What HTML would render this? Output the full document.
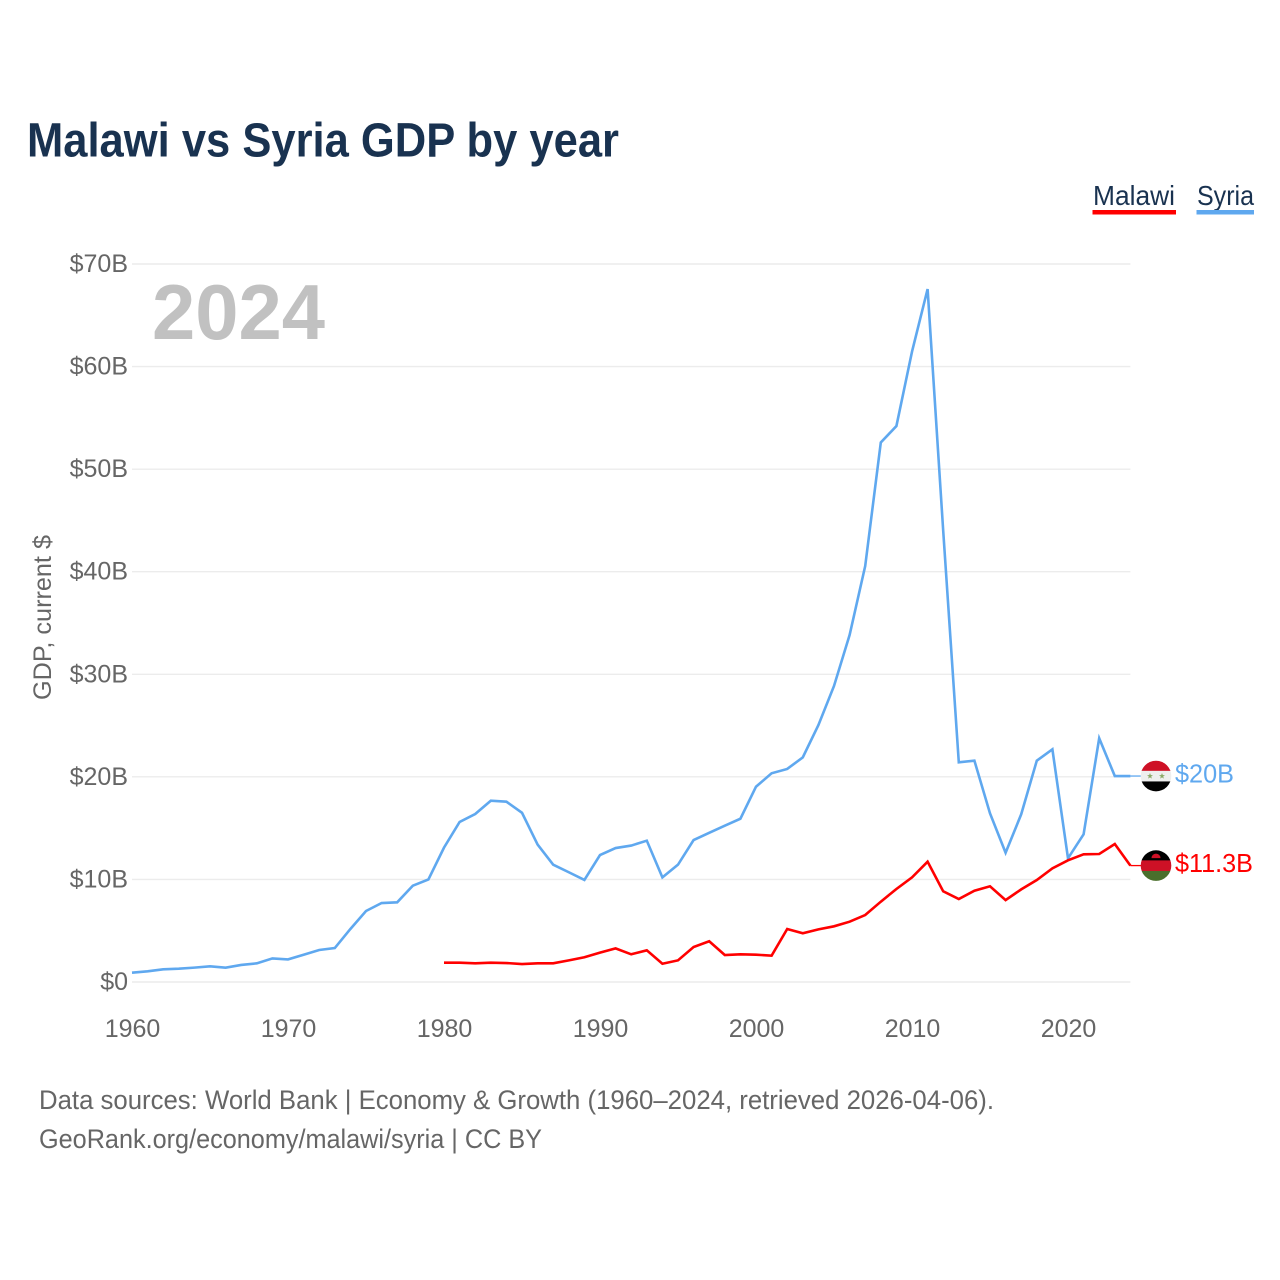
<!DOCTYPE html>
<html lang="en">
<head>
<meta charset="utf-8">
<title>Malawi vs Syria GDP by year</title>
<style>
  html, body { margin: 0; padding: 0; background: #fff; }
  svg { display: block; font-family: "Liberation Sans", sans-serif; }
</style>
</head>
<body>
<svg id="chart" xmlns="http://www.w3.org/2000/svg" width="1280" height="1280" viewBox="0 0 1280 1280">
  <rect width="1280" height="1280" fill="#fff"/>
  <text x="27" y="156.5" font-size="48" font-weight="700" fill="#193250" textLength="592" lengthAdjust="spacingAndGlyphs">Malawi vs Syria GDP by year</text>

  <g>
    <g>
      <text x="1093" y="205" font-size="28" fill="#193250" textLength="82" lengthAdjust="spacingAndGlyphs">Malawi</text>
      <rect x="1092.5" y="210" width="83.5" height="4.5" fill="#ff0000"/>
    </g>
    <g>
      <text x="1197" y="205" font-size="28" fill="#193250" textLength="57" lengthAdjust="spacingAndGlyphs">Syria</text>
      <rect x="1196.5" y="210" width="57.5" height="4.5" fill="#5fa8ef"/>
    </g>
  </g>

  <g id="grid"></g>
  <g id="y-axis"></g>
  <g id="x-axis"></g>

  <text transform="translate(51 700) rotate(-90)" font-size="25" fill="#666" textLength="165" lengthAdjust="spacingAndGlyphs">GDP, current $</text>
  <text x="152" y="339" font-size="78" font-weight="700" fill="#c1c1c1" textLength="173" lengthAdjust="spacingAndGlyphs">2024</text>

  <g id="series"></g>

  <defs>
    <clipPath id="flag-clip"><circle cx="0" cy="0" r="15.3"/></clipPath>
  </defs>
  <g id="flag-syria" clip-path="url(#flag-clip)">
    <rect x="-16" y="-16" width="32" height="11" fill="#ce1126"/>
    <rect x="-16" y="-5.2" width="32" height="10.6" fill="#eeeeee"/>
    <rect x="-16" y="5.4" width="32" height="11" fill="#000"/>
    <polygon fill="#8aa865" points="-6,-3 -5.2,-0.9 -3,-0.9 -4.8,0.4 -4.1,2.6 -6,1.3 -7.9,2.6 -7.2,0.4 -9,-0.9 -6.8,-0.9"/>
    <polygon fill="#8aa865" points="6,-3 6.8,-0.9 9,-0.9 7.2,0.4 7.9,2.6 6,1.3 4.1,2.6 4.8,0.4 3,-0.9 5.2,-0.9"/>
  </g>
  <g id="flag-malawi" clip-path="url(#flag-clip)">
    <rect x="-16" y="-16" width="32" height="11" fill="#000"/>
    <rect x="-16" y="-5.2" width="32" height="10.6" fill="#ce1126"/>
    <rect x="-16" y="5.4" width="32" height="11" fill="#4a6f2c"/>
    <path d="M-4.5,-7.5 A4.5,4.5 0 0 1 4.5,-7.5 Z" fill="#ce1126"/>
  </g>
  <text id="end-label-syria" x="1175" font-size="25.5" fill="#5fa8ef"></text>
  <text id="end-label-malawi" x="1175" font-size="25.5" fill="#ff0000"></text>

  <g>
    <text x="39" y="1109" font-size="27" fill="#666" textLength="955" lengthAdjust="spacingAndGlyphs">Data sources: World Bank | Economy &amp; Growth (1960–2024, retrieved 2026-04-06).</text>
    <text x="39" y="1148" font-size="27" fill="#666" textLength="503" lengthAdjust="spacingAndGlyphs">GeoRank.org/economy/malawi/syria | CC BY</text>
  </g>
</svg>

<script>
const yTickValues = [0, 10, 20, 30, 40, 50, 60, 70];
const yTickLabels = ["$0", "$10B", "$20B", "$30B", "$40B", "$50B", "$60B", "$70B"];
const xTickYears = [1960, 1970, 1980, 1990, 2000, 2010, 2020];
const xTickLabels = ["1960", "1970", "1980", "1990", "2000", "2010", "2020"];

const syriaStartYear = 1960;
const syriaValues = [
  0.91, 1.04, 1.24, 1.30, 1.40, 1.53, 1.40, 1.66, 1.82, 2.30,
  2.20, 2.66, 3.12, 3.31, 5.17, 6.92, 7.70, 7.77, 9.39, 10.0,
  13.1, 15.6, 16.38, 17.67, 17.58, 16.5, 13.4, 11.44, 10.7, 9.95,
  12.38, 13.06, 13.3, 13.78, 10.2, 11.44, 13.84, 14.55, 15.24, 15.92,
  19.04, 20.35, 20.77, 21.9, 25.05, 28.86, 33.83, 40.56, 52.6, 54.2,
  61.45, 67.56, 44.0, 21.42, 21.58, 16.44, 12.6, 16.35, 21.58, 22.68,
  12.06, 14.4, 23.76, 20.08, 20.08
];

const malawiStartYear = 1980;
const malawiValues = [
  1.88, 1.88, 1.82, 1.88, 1.85, 1.75, 1.82, 1.82, 2.11, 2.41,
  2.86, 3.28, 2.70, 3.09, 1.78, 2.11, 3.41, 3.97, 2.63, 2.70,
  2.66, 2.57, 5.17, 4.75, 5.13, 5.43, 5.88, 6.53, 7.83, 9.07,
  10.2, 11.73, 8.84, 8.09, 8.90, 9.33, 7.99, 9.03, 9.94, 11.08,
  11.86, 12.45, 12.48, 13.45, 11.35
];

const syriaEndLabel = "$20B";
const malawiEndLabel = "$11.3B";

const SVG_NS = "http://www.w3.org/2000/svg";
const X0 = 132, PX_PER_YEAR = 15.6, Y0 = 982, PX_PER_BILLION = 10.257;
const xScale = function (year) { return X0 + (year - 1960) * PX_PER_YEAR; };
const yScale = function (value) { return Y0 - value * PX_PER_BILLION; };
const PLOT_RIGHT = xScale(2024);
const FLAG_X = 1156;

const gridLayer = document.getElementById("grid");
const yAxisLayer = document.getElementById("y-axis");
const xAxisLayer = document.getElementById("x-axis");
const seriesLayer = document.getElementById("series");

yTickValues.forEach(function (value, i) {
  const y = yScale(value);
  const line = document.createElementNS(SVG_NS, "line");
  
  
  line.setAttribute("x1", X0);
  line.setAttribute("x2", PLOT_RIGHT);
  line.setAttribute("y1", y);
  line.setAttribute("y2", y);
  line.setAttribute("stroke", "#ececec");
  line.setAttribute("stroke-width", "1.4");
  gridLayer.appendChild(line);

  const label = document.createElementNS(SVG_NS, "text");
  
  
  label.setAttribute("x", 128);
  label.setAttribute("y", y + 8);
  label.setAttribute("text-anchor", "end");
  label.setAttribute("font-size", "25");
  label.setAttribute("fill", "#666");
  label.textContent = yTickLabels[i];
  yAxisLayer.appendChild(label);
});

xTickYears.forEach(function (year, i) {
  const label = document.createElementNS(SVG_NS, "text");
  
  
  label.setAttribute("x", xScale(year) + 0.5);
  label.setAttribute("y", 1037);
  label.setAttribute("text-anchor", "middle");
  label.setAttribute("font-size", "25");
  label.setAttribute("fill", "#666");
  label.textContent = xTickLabels[i];
  xAxisLayer.appendChild(label);
});

function linePoints(startYear, values) {
  return values.map(function (v, i) {
    return xScale(startYear + i).toFixed(2) + "," + yScale(v).toFixed(2);
  }).join(" ");
}

const syriaLine = document.createElementNS(SVG_NS, "polyline");


syriaLine.setAttribute("points", linePoints(syriaStartYear, syriaValues));
syriaLine.setAttribute("fill", "none");
syriaLine.setAttribute("stroke", "#5fa8ef");
syriaLine.setAttribute("stroke-width", "2.6");
syriaLine.setAttribute("stroke-linejoin", "miter");
seriesLayer.appendChild(syriaLine);

const malawiLine = document.createElementNS(SVG_NS, "polyline");


malawiLine.setAttribute("points", linePoints(malawiStartYear, malawiValues));
malawiLine.setAttribute("fill", "none");
malawiLine.setAttribute("stroke", "#ff0000");
malawiLine.setAttribute("stroke-width", "2.6");
malawiLine.setAttribute("stroke-linejoin", "miter");
seriesLayer.appendChild(malawiLine);

const syriaEndY = yScale(syriaValues[syriaValues.length - 1]);
const malawiEndY = yScale(malawiValues[malawiValues.length - 1]);

const syriaConnector = document.createElementNS(SVG_NS, "line");


syriaConnector.setAttribute("x1", PLOT_RIGHT);
syriaConnector.setAttribute("x2", FLAG_X - 15);
syriaConnector.setAttribute("y1", syriaEndY);
syriaConnector.setAttribute("y2", syriaEndY);
syriaConnector.setAttribute("stroke", "#5fa8ef");
syriaConnector.setAttribute("stroke-width", "1.3");
seriesLayer.appendChild(syriaConnector);

const malawiConnector = document.createElementNS(SVG_NS, "line");


malawiConnector.setAttribute("x1", PLOT_RIGHT);
malawiConnector.setAttribute("x2", FLAG_X - 15);
malawiConnector.setAttribute("y1", malawiEndY);
malawiConnector.setAttribute("y2", malawiEndY);
malawiConnector.setAttribute("stroke", "#ff0000");
malawiConnector.setAttribute("stroke-width", "1.3");
seriesLayer.appendChild(malawiConnector);

document.getElementById("flag-syria").setAttribute("transform", "translate(" + FLAG_X + " " + syriaEndY + ")");
document.getElementById("flag-malawi").setAttribute("transform", "translate(" + FLAG_X + " " + malawiEndY + ")");

const syriaLabel = document.getElementById("end-label-syria");
syriaLabel.setAttribute("y", syriaEndY + 6.5);
syriaLabel.setAttribute("textLength", "59");
syriaLabel.setAttribute("lengthAdjust", "spacingAndGlyphs");
syriaLabel.textContent = syriaEndLabel;

const malawiLabel = document.getElementById("end-label-malawi");
malawiLabel.setAttribute("y", malawiEndY + 6.5);
malawiLabel.setAttribute("textLength", "78");
malawiLabel.setAttribute("lengthAdjust", "spacingAndGlyphs");
malawiLabel.textContent = malawiEndLabel;
</script>
</body>
</html>
